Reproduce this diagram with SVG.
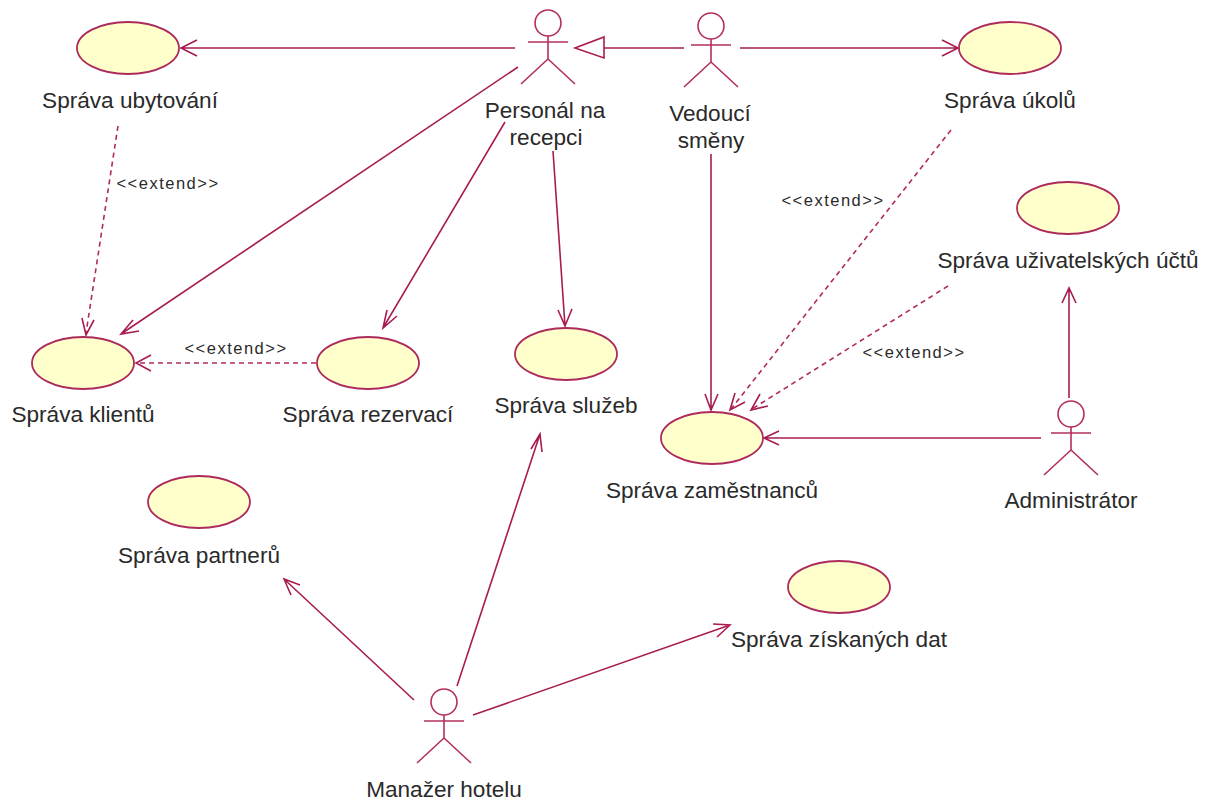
<svg xmlns="http://www.w3.org/2000/svg" width="1209" height="803" viewBox="0 0 1209 803">
<style>
.uc{fill:#ffffcb;stroke:#ad2a5c;stroke-width:1.8}
.a{fill:none;stroke:#b32f62;stroke-width:1.6}
.c{fill:none;stroke:#a81c52;stroke-width:1.6}
.d{fill:none;stroke:#b02a5e;stroke-width:1.6;stroke-dasharray:5 4}
.t{font-family:"Liberation Sans",Arial,sans-serif;font-size:22.6px;fill:#2a2a2a;text-anchor:middle}
.s{font-family:"Liberation Sans",Arial,sans-serif;font-size:16.5px;fill:#2a2a2a;text-anchor:middle;letter-spacing:1.5px}
</style>
<defs>
<symbol id="actor" overflow="visible"><circle cx="0" cy="0" r="13" class="a"/><path class="a" d="M-20 19H20M0 13V36M0 36L-27 61M0 36L27 61"/></symbol>
</defs>
<g id="connectors">
<path class="c" d="M515 48H181M197 40L181 48L197 56"/>
<path class="c" d="M518 67L121 334M133 320L121 334L139 331"/>
<path class="c" d="M505 122L383 328M387 310L383 328L397 316"/>
<path class="c" d="M553 151L565 326M558 310L565 326L572 309"/>
<path class="c" d="M684 48H604"/><path class="c" d="M604 37V58L575 48Z"/>
<path class="c" d="M740 48H958M942 40L958 48L942 56"/>
<path class="c" d="M711 154V410M705 394L711 410L718 394"/>
<path class="c" d="M1041 438H764M779 431L764 438L779 445"/>
<path class="c" d="M1069 398V288M1062 303L1069 288L1076 303"/>
<path class="c" d="M414 700L284 579M291 595L284 579L300 585"/>
<path class="c" d="M457 686L540 434M531 449L540 434L542 452"/>
<path class="c" d="M473 715L730 625M713 624L730 625L717 637"/>
<path class="d" d="M118 126L86 333"/><path class="c" d="M82 318L86 335L94 320"/>
<path class="d" d="M316 363H136"/><path class="c" d="M151 355L136 363L151 371"/>
<path class="d" d="M951 130L731 409"/><path class="c" d="M735 393L730 410L745 402"/>
<path class="d" d="M948 286L752 409"/><path class="c" d="M760 394L751 410L768 406"/>
</g>
<g id="uc-ubytovani"><ellipse class="uc" cx="128" cy="48" rx="51" ry="26"/><text class="t" x="130" y="108">Správa ubytování</text></g>
<g id="uc-ukolu"><ellipse class="uc" cx="1010" cy="48" rx="51" ry="26"/><text class="t" x="1010" y="108">Správa úkolů</text></g>
<g id="uc-uctu"><ellipse class="uc" cx="1068" cy="208" rx="51" ry="26"/><text class="t" x="1068" y="268">Správa uživatelských účtů</text></g>
<g id="uc-klientu"><ellipse class="uc" cx="83" cy="363" rx="51" ry="26"/><text class="t" x="83" y="422">Správa klientů</text></g>
<g id="uc-rezervaci"><ellipse class="uc" cx="368" cy="363" rx="51" ry="26"/><text class="t" x="368" y="422">Správa rezervací</text></g>
<g id="uc-sluzeb"><ellipse class="uc" cx="566" cy="354" rx="51" ry="26"/><text class="t" x="566" y="413">Správa služeb</text></g>
<g id="uc-zamestnancu"><ellipse class="uc" cx="712" cy="438" rx="51" ry="26"/><text class="t" x="712" y="498">Správa zaměstnanců</text></g>
<g id="uc-partneru"><ellipse class="uc" cx="199" cy="502" rx="51" ry="26"/><text class="t" x="199" y="563">Správa partnerů</text></g>
<g id="uc-dat"><ellipse class="uc" cx="839" cy="587" rx="51" ry="26"/><text class="t" x="839" y="647">Správa získaných dat</text></g>
<g id="actor-personal"><use href="#actor" x="548" y="23"/><text class="t" x="545" y="118">Personál na</text><text class="t" x="546" y="145">recepci</text></g>
<g id="actor-vedouci"><use href="#actor" x="711" y="26"/><text class="t" x="710" y="121">Vedoucí</text><text class="t" x="711" y="148">směny</text></g>
<g id="actor-admin"><use href="#actor" x="1071" y="414"/><text class="t" x="1071" y="508">Administrátor</text></g>
<g id="actor-manazer"><use href="#actor" x="444" y="702"/><text class="t" x="444" y="797">Manažer hotelu</text></g>
<g id="labels">
<text class="s" x="168" y="189">&lt;&lt;extend&gt;&gt;</text>
<text class="s" x="236" y="354">&lt;&lt;extend&gt;&gt;</text>
<text class="s" x="833" y="206">&lt;&lt;extend&gt;&gt;</text>
<text class="s" x="914" y="358">&lt;&lt;extend&gt;&gt;</text>
</g>
</svg>
